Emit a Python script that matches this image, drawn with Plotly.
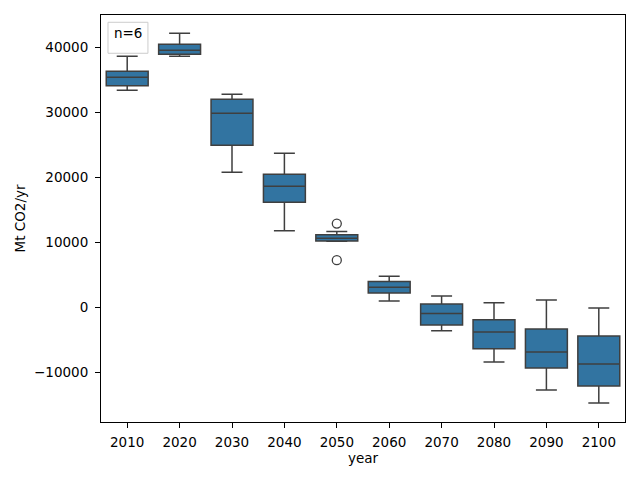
import plotly.graph_objects as go

years = ["2010", "2020", "2030", "2040", "2050", "2060", "2070", "2080", "2090", "2100"]
upper_whisker = [38590, 42120, 32750, 23690, 11640, 4790, 1720, 690, 1110, -120]
q3_values = [36280, 40430, 31980, 20460, 11140, 3960, 490, -1920, -3350, -4420]
median_values = [35360, 39510, 29830, 18620, 10600, 3100, -950, -3810, -6880, -8720]
q1_values = [34070, 38890, 24920, 16160, 10210, 2180, -2730, -6370, -9340, -12100]
lower_whisker = [33360, 38590, 20770, 11750, 10140, 950, -3610, -8420, -12720, -14720]
outlier_years = ["2050", "2050"]
outlier_values = [12870, 7250]
y_ticks = [-10000, 0, 10000, 20000, 30000, 40000]
legend_text = "n=6"

FILL = "#3274a1"
LINE = "#3f3f3f"
FONT = "DejaVu Sans"
FS = 13.5

fig = go.Figure()
fig.add_trace(go.Box(
    x=years,
    q1=q1_values,
    median=median_values,
    q3=q3_values,
    lowerfence=lower_whisker,
    upperfence=upper_whisker,
    fillcolor=FILL,
    line=dict(color=LINE, width=1.5),
    whiskerwidth=0.5,
    width=0.8,
    boxpoints=False,
    showlegend=False,
))
fig.add_trace(go.Scatter(
    x=outlier_years,
    y=outlier_values,
    mode="markers",
    marker=dict(symbol="circle-open", size=9, color=LINE, line=dict(width=1.3, color=LINE)),
    showlegend=False,
    hoverinfo="y",
))

fig.update_layout(
    width=640, height=480,
    margin=dict(l=101, r=15, t=15, b=58),
    paper_bgcolor="white", plot_bgcolor="white",
    font=dict(family=FONT, size=FS, color="black"),
    showlegend=False,
)
fig.update_xaxes(
    type="category",
    categoryorder="array", categoryarray=years,
    range=[-0.5, 9.5],
    showline=True, linecolor="black", linewidth=1, mirror=True,
    ticks="outside", ticklen=5, tickwidth=1, tickcolor="black",
    showgrid=False, zeroline=False,
    ticklabelstandoff=3,
    title=dict(text="year", font=dict(family=FONT, size=FS), standoff=2),
)
fig.update_yaxes(
    range=[-17630, 44930],
    tickvals=y_ticks,
    ticktext=["\u221210000", "0", "10000", "20000", "30000", "40000"],
    showline=True, linecolor="black", linewidth=1, mirror=True,
    ticks="outside", ticklen=5, tickwidth=1, tickcolor="black",
    showgrid=False, zeroline=False,
    ticklabelstandoff=4,
    title=dict(text="Mt CO2/yr", font=dict(family=FONT, size=FS), standoff=5),
)

# legend-like box "n=6" at top-left
x0p = (107.7 - 100.7) / 524.6
x1p = (147.7 - 100.7) / 524.6
y1p = 1 - (22.3 - 15) / 407.3
y0p = 1 - (53.3 - 15) / 407.3
fig.add_shape(type="rect", xref="paper", yref="paper",
              x0=x0p, x1=x1p, y0=y0p, y1=y1p,
              line=dict(color="#cccccc", width=1), fillcolor="rgba(255,255,255,0.8)", layer="above")
fig.add_annotation(xref="paper", yref="paper", x=(x0p + x1p) / 2, y=1 - (33.3 - 15) / 407.3,
                   text=legend_text, showarrow=False, xanchor="center", yanchor="middle",
                   font=dict(family=FONT, size=FS, color="black"))

fig.write_html("out.html")
